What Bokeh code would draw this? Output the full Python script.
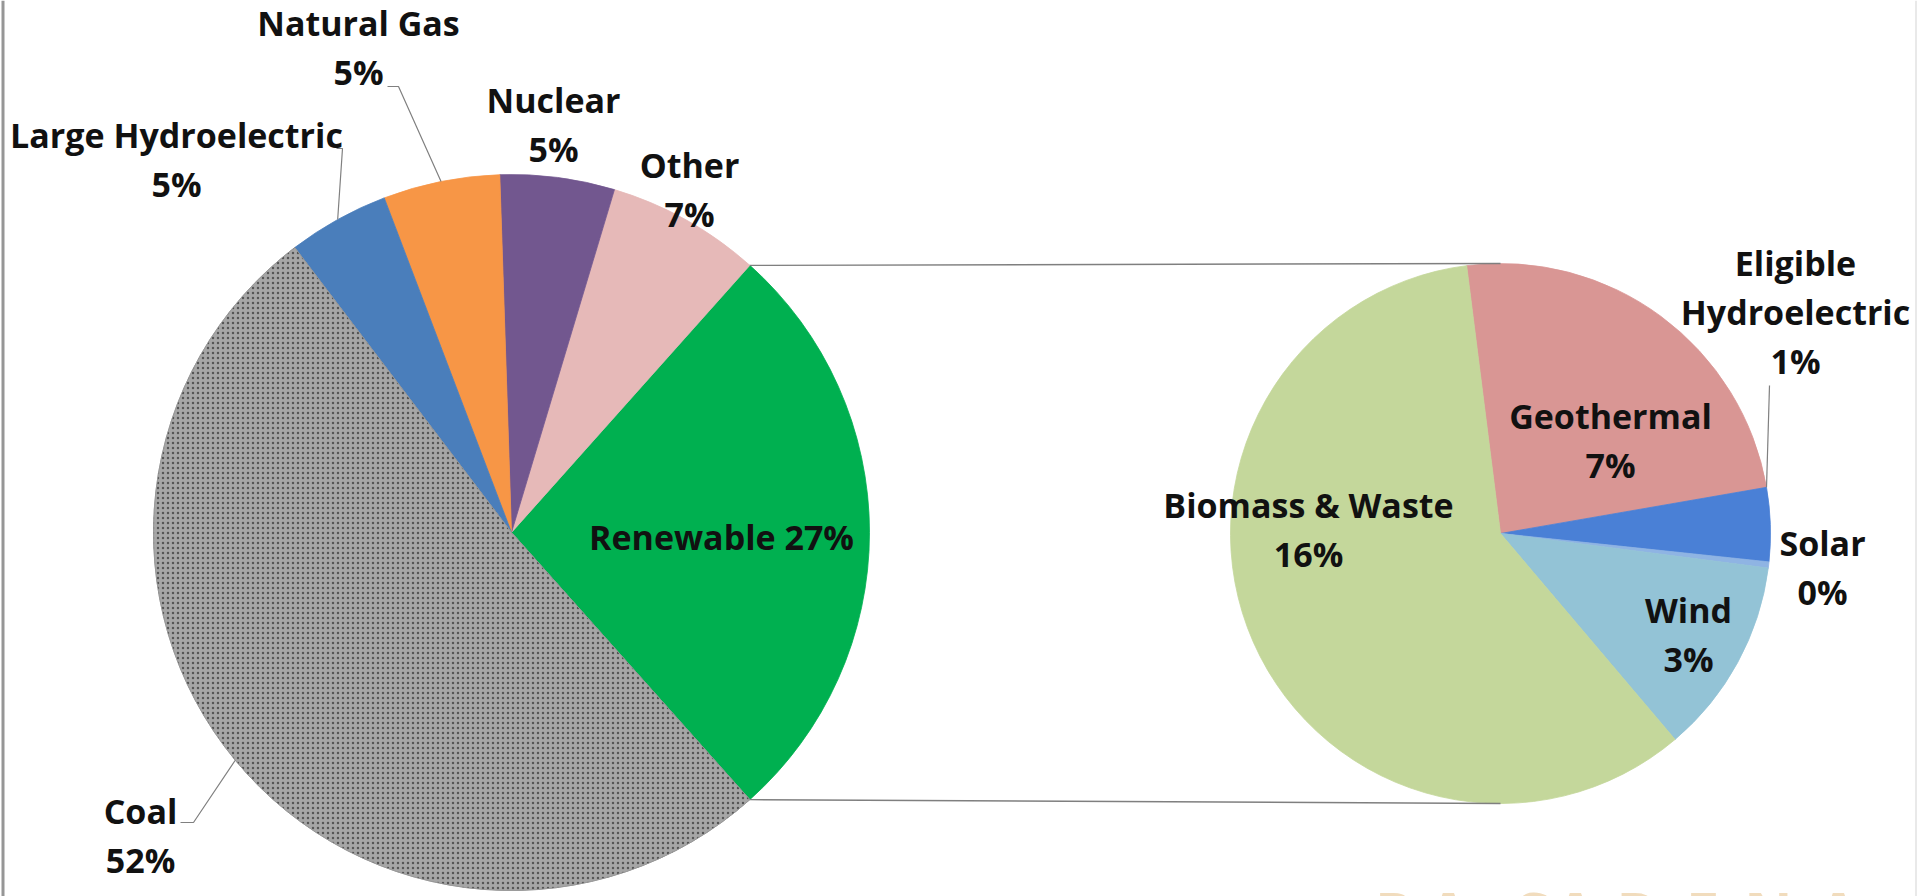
import math
from bokeh.plotting import figure
from bokeh.models import ColumnDataSource, Range1d
from bokeh.core.properties import value
from bokeh.embed import file_html
from bokeh.resources import INLINE

# ---------------- data ----------------
main_names = ["Renewable", "Other", "Nuclear", "Natural Gas", "Large Hydroelectric", "Coal"]
main_values = [27.0, 7.0, 5.2, 5.3, 4.6, 51.6]          # share of total (%)
main_colors = ["#00b050", "#e6b9b8", "#72578f", "#f79646", "#4a7ebb", "#a0a0a0"]

sub_names = ["Geothermal", "Eligible\nHydroelectric", "Solar", "Wind", "Biomass & Waste"]
sub_values = [6.6, 1.2, 0.1, 3.2, 16.1]                  # share of total (%)
sub_colors = ["#d99694", "#4a80d6", "#8fb4e3", "#93c3d6", "#c4d79b"]

watermark = "PASADENA"

# ---------------- layout / style ----------------
W, H = 1917, 896
FONT = value("Open Sans")
FSIZE = "34px"
LINE_GAP = 49
TEXT_SHIFT = -13

def sy(y):  # screen y -> data y
    return H - y

C1 = (511, sy(532)); R1 = 358
C2 = (1500, sy(533)); R2 = 270
SUB_START_DEG = 97.2

# label anchors (x centre, first-line baseline) in screen pixels
main_label_pos = [(721, 549), (689, 177), (553, 112), (358, 35), (176, 147), (140, 823)]
sub_label_pos = [(1610, 428), (1795, 275), (1822, 555), (1688, 622), (1308, 517)]
main_label_inline = [True, False, False, False, False, False]

# leader elbows (screen) for labels that have one: index -> points
main_leaders = {4: [(336, 148), (342, 148)], 3: [(387, 86), (398, 86)], 5: [(180, 822), (193, 822)]}
sub_leaders = {1: [(1769, 385)]}

# watermark letter centres (screen x) and top
wm_x = [1393, 1448, 1532, 1575, 1638, 1702, 1768, 1838]
wm_top = 872

p = figure(width=W, height=H, x_range=Range1d(0, W), y_range=Range1d(0, H),
           x_axis_type=None, y_axis_type=None, toolbar_location=None,
           output_backend="svg", min_border=0, outline_line_color=None,
           background_fill_color="white", border_fill_color="white")
p.grid.visible = False

# ---------- main pie ----------
tot1 = sum(main_values)
ren_span = main_values[0] / tot1 * 2 * math.pi
a = -ren_span / 2
m_start, m_end, m_mid = [], [], []
for v in main_values:
    span = v / tot1 * 2 * math.pi
    m_start.append(a); m_end.append(a + span); m_mid.append(a + span / 2)
    a += span

src1 = ColumnDataSource(dict(start=m_start, end=m_end, color=main_colors))
p.wedge(x=C1[0], y=C1[1], radius=R1, start_angle="start", end_angle="end",
        fill_color="color", line_color="color", line_width=0.8, source=src1)
# textured coal slice
p.wedge(x=C1[0], y=C1[1], radius=R1, start_angle=m_start[5], end_angle=m_end[5],
        fill_color="#a6a6a6", line_color="#959595", line_width=0.8,
        hatch_pattern="dot", hatch_color="#555555", hatch_scale=5, hatch_weight=2)

# ---------- sub pie (clockwise from start) ----------
tot2 = sum(sub_values)
a = math.radians(SUB_START_DEG)
s_start, s_end, s_mid = [], [], []
for v in sub_values:
    span = v / tot2 * 2 * math.pi
    s_start.append(a - span); s_end.append(a); s_mid.append(a - span / 2)
    a -= span
src2 = ColumnDataSource(dict(start=s_start, end=s_end, color=sub_colors))
p.wedge(x=C2[0], y=C2[1], radius=R2, start_angle="start", end_angle="end",
        fill_color="color", line_color="color", line_width=0.8, source=src2)

# ---------- connector lines ----------
top_pt = (C1[0] + R1 * math.cos(m_end[0]), C1[1] + R1 * math.sin(m_end[0]))
bot_pt = (C1[0] + R1 * math.cos(m_start[0]), C1[1] + R1 * math.sin(m_start[0]))
p.segment(x0=[top_pt[0], bot_pt[0]], y0=[top_pt[1], bot_pt[1]],
          x1=[C2[0], C2[0]], y1=[C2[1] + R2, C2[1] - R2],
          line_color="#7f7f7f", line_width=1.4)

# ---------- leader lines ----------
for i, pts in main_leaders.items():
    xs = [q[0] for q in pts] + [C1[0] + R1 * math.cos(m_mid[i])]
    ys = [sy(q[1]) for q in pts] + [C1[1] + R1 * math.sin(m_mid[i])]
    p.line(xs, ys, line_color="#808080", line_width=1.2)
for i, pts in sub_leaders.items():
    xs = [q[0] for q in pts] + [C2[0] + R2 * math.cos(s_end[i])]
    ys = [sy(q[1]) for q in pts] + [C2[1] + R2 * math.sin(s_end[i])]
    p.line(xs, ys, line_color="#808080", line_width=1.2)

# ---------- labels ----------
tx, ty, tt = [], [], []
def add_label(text, pos):
    for k, line in enumerate(text.split("\n")):
        tx.append(pos[0]); ty.append(sy(pos[1] + TEXT_SHIFT + k * LINE_GAP)); tt.append(line)

for name, v, pos, inline in zip(main_names, main_values, main_label_pos, main_label_inline):
    pct = f"{round(v)}%"
    add_label(f"{name} {pct}" if inline else f"{name}\n{pct}", pos)
for name, v, pos in zip(sub_names, sub_values, sub_label_pos):
    add_label(f"{name}\n{round(v)}%", pos)

p.text(x=tx, y=ty, text=tt, text_font=FONT, text_font_style="bold",
       text_font_size=FSIZE, text_color="#111111",
       text_align="center", text_baseline="alphabetic")

# ---------- watermark ----------
p.text(x=wm_x, y=[sy(wm_top)] * len(watermark), text=list(watermark), text_font=FONT,
       text_font_style="bold", text_font_size="60px", text_color="#f1dcbd",
       text_align="center", text_baseline="top")

# ---------- frame borders ----------
p.segment(x0=[2.5], y0=[0], x1=[2.5], y1=[H], line_color="#969696", line_width=3)
p.segment(x0=[W - 1.5], y0=[0], x1=[W - 1.5], y1=[H], line_color="#e2e2e2", line_width=1.5)

open("out.html", "w").write(file_html(p, INLINE))
